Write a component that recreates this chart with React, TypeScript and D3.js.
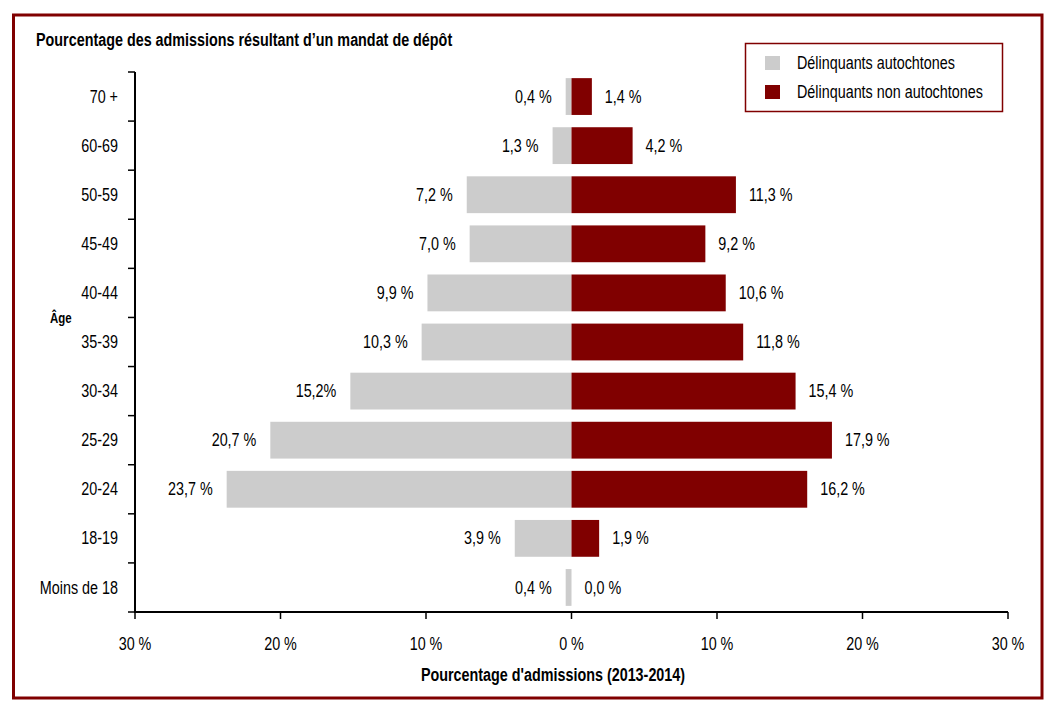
import { useEffect, useRef } from 'react';
import * as d3 from 'd3';

const WIDTH = 1055;
const HEIGHT = 713;
const FONT = "'Liberation Sans', Arial, sans-serif";
const NARROW = 0.82; // approximation d'Arial Narrow
const FS = '17.5px';
const RED = '#800000';
const GREY = '#cccccc';

// Données
const groupesAge = ['70 +', '60-69', '50-59', '45-49', '40-44', '35-39', '30-34', '25-29', '20-24', '18-19', 'Moins de 18'];
const autochtones = [0.4, 1.3, 7.2, 7.0, 9.9, 10.3, 15.2, 20.7, 23.7, 3.9, 0.4];
const nonAutochtones = [1.4, 4.2, 11.3, 9.2, 10.6, 11.8, 15.4, 17.9, 16.2, 1.9, 0.0];
const etiquettesAutochtones = ['0,4 %', '1,3 %', '7,2 %', '7,0 %', '9,9 %', '10,3 %', '15,2%', '20,7 %', '23,7 %', '3,9 %', '0,4 %'];
const etiquettesNonAutochtones = ['1,4 %', '4,2 %', '11,3 %', '9,2 %', '10,6 %', '11,8 %', '15,4 %', '17,9 %', '16,2 %', '1,9 %', '0,0 %'];
const ticksX = [-30, -20, -10, 0, 10, 20, 30];
const legende = [
  { nom: 'Délinquants autochtones', couleur: GREY },
  { nom: 'Délinquants non autochtones', couleur: RED },
];

const PLOT = { left: 135, right: 1008, top: 72, bottom: 612 };

const at = (x: number, y: number) => `translate(${x},${y}) scale(${NARROW},1)`;

export default function App() {
  const svgRef = useRef<SVGSVGElement>(null);

  useEffect(() => {
    if (!svgRef.current) return;
    const svg = d3.select(svgRef.current);
    svg.selectAll('*').remove();

    const x = d3.scaleLinear().domain([-30, 30]).range([PLOT.left, PLOT.right]);
    const y = d3
      .scaleBand()
      .domain(groupesAge)
      .range([PLOT.top, PLOT.bottom])
      .paddingInner(0.25)
      .paddingOuter(0.125);
    const cy = (d: string) => y(d)! + y.bandwidth() / 2;

    // Cadre
    svg
      .append('rect')
      .attr('x', 13.5)
      .attr('y', 15)
      .attr('width', 1028.5)
      .attr('height', 683)
      .attr('fill', '#fff')
      .attr('stroke', RED)
      .attr('stroke-width', 3);

    // Titre
    svg
      .append('text')
      .attr('transform', at(36, 46))
      .style('font-family', FONT)
      .style('font-size', FS)
      .style('font-weight', 'bold')
      .text('Pourcentage des admissions résultant d’un mandat de dépôt');

    // Barres autochtones (à gauche)
    svg
      .selectAll('.bar-a')
      .data(groupesAge)
      .join('rect')
      .attr('class', 'bar-a')
      .attr('x', (_, i) => x(-autochtones[i]))
      .attr('y', d => y(d)!)
      .attr('width', (_, i) => x(0) - x(-autochtones[i]))
      .attr('height', y.bandwidth())
      .attr('fill', GREY);

    // Barres non autochtones (à droite)
    svg
      .selectAll('.bar-n')
      .data(groupesAge)
      .join('rect')
      .attr('class', 'bar-n')
      .attr('x', x(0))
      .attr('y', d => y(d)!)
      .attr('width', (_, i) => x(nonAutochtones[i]) - x(0))
      .attr('height', y.bandwidth())
      .attr('fill', RED);

    // Étiquettes de valeurs
    svg
      .selectAll('.lab-a')
      .data(groupesAge)
      .join('text')
      .attr('class', 'lab-a')
      .attr('transform', (d, i) => at(x(-autochtones[i]) - 14, cy(d)))
      .attr('dy', '0.35em')
      .attr('text-anchor', 'end')
      .style('font-family', FONT)
      .style('font-size', FS)
      .text((_, i) => etiquettesAutochtones[i]);

    svg
      .selectAll('.lab-n')
      .data(groupesAge)
      .join('text')
      .attr('class', 'lab-n')
      .attr('transform', (d, i) => at(x(nonAutochtones[i]) + 13, cy(d)))
      .attr('dy', '0.35em')
      .style('font-family', FONT)
      .style('font-size', FS)
      .text((_, i) => etiquettesNonAutochtones[i]);

    // Axe Y
    const yAxis = svg.append('g');
    yAxis
      .append('line')
      .attr('x1', PLOT.left)
      .attr('x2', PLOT.left)
      .attr('y1', PLOT.top)
      .attr('y2', PLOT.bottom)
      .attr('stroke', '#000')
      .attr('stroke-width', 2);
    const bornes = d3.range(groupesAge.length + 1).map(i => PLOT.top + i * y.step());
    yAxis
      .selectAll('.ytick')
      .data(bornes)
      .join('line')
      .attr('class', 'ytick')
      .attr('x1', PLOT.left - 7)
      .attr('x2', PLOT.left)
      .attr('y1', d => d)
      .attr('y2', d => d)
      .attr('stroke', '#000')
      .attr('stroke-width', 1.5);
    yAxis
      .selectAll('.ylab')
      .data(groupesAge)
      .join('text')
      .attr('class', 'ylab')
      .attr('transform', d => at(118, cy(d)))
      .attr('dy', '0.35em')
      .attr('text-anchor', 'end')
      .style('font-family', FONT)
      .style('font-size', FS)
      .text(d => d);

    // Axe X
    const xAxis = svg.append('g').attr('transform', `translate(0, ${PLOT.bottom})`);
    xAxis
      .append('line')
      .attr('x1', PLOT.left - 1)
      .attr('x2', PLOT.right)
      .attr('stroke', '#000')
      .attr('stroke-width', 2);
    xAxis
      .selectAll('.xtick')
      .data(ticksX)
      .join('line')
      .attr('class', 'xtick')
      .attr('x1', d => x(d))
      .attr('x2', d => x(d))
      .attr('y1', 0)
      .attr('y2', 7)
      .attr('stroke', '#000')
      .attr('stroke-width', 1.5);
    xAxis
      .selectAll('.xlab')
      .data(ticksX)
      .join('text')
      .attr('class', 'xlab')
      .attr('transform', d => at(x(d), 32))
      .attr('dy', '0.35em')
      .attr('text-anchor', 'middle')
      .style('font-family', FONT)
      .style('font-size', FS)
      .text(d => `${Math.abs(d)} %`);

    // Titres des axes
    svg
      .append('text')
      .attr('transform', at(553, 675))
      .attr('dy', '0.35em')
      .attr('text-anchor', 'middle')
      .style('font-family', FONT)
      .style('font-size', FS)
      .style('font-weight', 'bold')
      .text("Pourcentage d'admissions (2013-2014)");

    svg
      .append('text')
      .attr('transform', at(50, 318))
      .attr('dy', '0.35em')
      .style('font-family', FONT)
      .style('font-size', '14px')
      .style('font-weight', 'bold')
      .text('Âge');

    // Légende
    const leg = svg.append('g');
    leg
      .append('rect')
      .attr('x', 745.5)
      .attr('y', 43.5)
      .attr('width', 257)
      .attr('height', 68)
      .attr('fill', '#fff')
      .attr('stroke', RED)
      .attr('stroke-width', 1.5);
    leg
      .selectAll('.sw')
      .data(legende)
      .join('rect')
      .attr('class', 'sw')
      .attr('x', 765)
      .attr('y', (_, i) => 56 + i * 29)
      .attr('width', 15)
      .attr('height', 14)
      .attr('fill', d => d.couleur);
    leg
      .selectAll('.lt')
      .data(legende)
      .join('text')
      .attr('class', 'lt')
      .attr('transform', (_, i) => at(797, 63 + i * 29))
      .attr('dy', '0.35em')
      .style('font-family', FONT)
      .style('font-size', FS)
      .text(d => d.nom);
  }, []);

  return (
    <svg
      ref={svgRef}
      width={WIDTH}
      height={HEIGHT}
      style={{ position: 'absolute', left: 0, top: 0, background: '#fff' }}
    />
  );
}
